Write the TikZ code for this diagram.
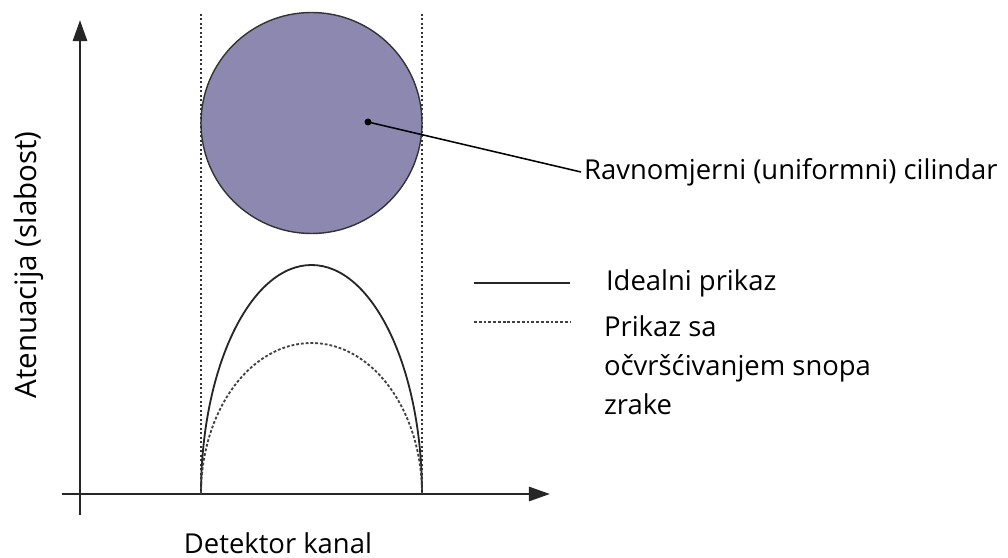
\documentclass[tikz,border=0pt]{standalone}
\usepackage{fontspec}
\setmainfont{Open Sans}
\usetikzlibrary{arrows.meta, positioning}

\definecolor{cylfill}{RGB}{140,136,175}

\begin{document}
\begin{tikzpicture}[x=0.025cm, y=-0.025cm,
  axis/.style={draw=black!85, line width=2pt,
               -{Triangle[length=15pt, width=10pt]}},
  guide/.style={draw=black!80, line width=1.1pt, dash pattern=on 1.2pt off 2pt},
  ideal/.style={draw=black!85, line width=1.3pt},
  hard/.style={draw=black!75, line width=1.3pt, dash pattern=on 2pt off 1.4pt},
  lbl/.style={font=\fontsize{19.5}{27.7}\selectfont, inner sep=2pt},
  every node/.style={font=\fontsize{19.5}{27.7}\selectfont}
]
  \useasboundingbox (0,0) rectangle (1008,558);

  % Axes
  \coordinate (yfoot) at (80,515);
  \coordinate (ytip) at (80,20);
  \coordinate (xfoot) at (62,494);
  \coordinate (xtip) at (550,494);
  \draw[axis] (yfoot) -- (ytip);
  \draw[axis] (xfoot) -- (xtip);

  % Detector edges
  \coordinate (ltop) at (201,14);
  \coordinate (lbot) at (201,494);
  \coordinate (rtop) at (422,14);
  \coordinate (rbot) at (422,494);
  \draw[guide] (ltop) -- (lbot);
  \draw[guide] (rtop) -- (rbot);

  % Cylinder
  \node[circle, draw=black!80, line width=1pt, fill=cylfill,
        minimum size=221*0.025cm, inner sep=0pt] (cyl) at (311.5,123) {};
  \coordinate (dot) at (368,122);
  \fill (dot) circle[radius=3.5];
  \node[lbl, anchor=west] (cyllbl) at (581,172) {Ravnomjerni (uniformni) cilindar};
  \draw[line width=1.1pt] (dot) -- (cyllbl.west);

  % Profiles
  \draw[ideal] (lbot) arc[start angle=180, end angle=360, x radius=110.5, y radius=229];
  \draw[hard] (lbot) arc[start angle=180, end angle=360, x radius=110.5, y radius=151];

  % Legend
  \coordinate (l1a) at (474,283);
  \coordinate (l1b) at (570,283);
  \coordinate (l2a) at (474,322);
  \coordinate (l2b) at (570,322);
  \draw[ideal] (l1a) -- (l1b);
  \draw[hard] (l2a) -- (l2b);
  \node[lbl, anchor=west] (idlbl) at (603,283) {Idealni prikaz};
  \node[lbl, anchor=north west, align=left] (hdlbl) at (601,313)
    {Prikaz sa\\očvršćivanjem snopa\\zrake};

  % Axis titles
  \node[lbl, rotate=90, font=\fontsize{21}{25}\selectfont] (ylbl) at (29,265) {Atenuacija (slabost)};
  \node[lbl] (xlbl) at (278,543) {Detektor kanal};
\end{tikzpicture}
\end{document}
